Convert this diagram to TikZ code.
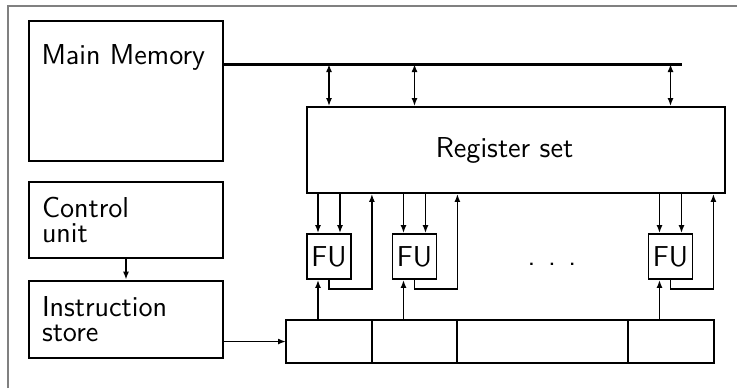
\documentclass[tikz,border=0pt]{standalone}
\usepackage{tikz}
\usetikzlibrary{arrows.meta, positioning}
\definecolor{framegray}{RGB}{128,128,128}

\begin{document}
\begin{tikzpicture}[
  x=0.5pt, y=-0.5pt,
  font=\fontsize{14.4pt}{12.5pt}\selectfont\sffamily,
  box/.style = {
    rectangle, draw=black, line width=0.9pt, inner sep=0pt
  },
  unit/.style = {
    box, minimum width=97pt, minimum height=38pt,
    text width=84pt, inner xsep=6.5pt, align=left
  },
  fu/.style = {box, minimum width=22pt, minimum height=22.5pt},
  cell/.style = {
    rectangle, draw=black, line width=0.8pt, outer sep=0pt,
    minimum height=21.5pt, inner sep=0pt
  },
  arr/.style = {-{Latex[length=4pt,width=3pt]}, line width=0.8pt},
  dbl/.style = {{Latex[length=4pt,width=3pt]}-{Latex[length=4pt,width=3pt]}, line width=0.8pt},
  bus/.style = {line width=1.5pt}
]
\useasboundingbox (0,0) rectangle (737,388);
\draw[framegray, line width=1pt] (8,388) -- (8,6) -- (737,6);

\node[box, minimum width=97pt, minimum height=70pt,
  label={[anchor=north west, inner sep=0pt, xshift=6.5pt, yshift=-12pt]north west:Main Memory}] (mem) at (126,91) {};
\node[unit, below=9.5pt of mem] (ctrl) {Control\\unit};
\node[unit, below=10.5pt of ctrl, minimum height=38.5pt] (instr) {Instruction\\store};
\node[box, minimum width=209pt, minimum height=43pt,
  label={[xshift=-5.75pt]center:Register set}] (reg) at (516,150) {};

\node[fu] (fu1) at (329,256.5) {FU};
\node[fu] (fu2) at (414.5,256.5) {FU};
\node[fu] (fu3) at (670.5,256.5) {FU};
\node[anchor=base] (dots) at (552,265) {. . .};

% instruction word
\node[cell, minimum width=43pt] (cell1) at (329,341.5) {};
\node[cell, minimum width=42.5pt, right=0pt of cell1] (cell2) {};
\node[cell, minimum width=85.5pt, right=0pt of cell2] (cell3) {};
\node[cell, minimum width=43pt, right=0pt of cell3] (cell4) {};

% bus to memory
\coordinate (busend) at (682,64);
\draw[bus] (mem.east |- busend) -- (busend);
\draw[dbl] (fu1 |- busend) -- (fu1 |- reg.north);
\draw[dbl] (fu2 |- busend) -- (fu2 |- reg.north);
\draw[dbl] (fu3 |- busend) -- (fu3 |- reg.north);

% registers to FUs and back
\draw[arr] ([xshift=-5.5pt]fu1.north |- reg.south) -- ([xshift=-5.5pt]fu1.north);
\draw[arr] ([xshift=5.5pt]fu1.north |- reg.south) -- ([xshift=5.5pt]fu1.north);
\draw[arr] ([xshift=-5.5pt]fu2.north |- reg.south) -- ([xshift=-5.5pt]fu2.north);
\draw[arr] ([xshift=5.5pt]fu2.north |- reg.south) -- ([xshift=5.5pt]fu2.north);
\draw[arr] ([xshift=-5.5pt]fu3.north |- reg.south) -- ([xshift=-5.5pt]fu3.north);
\draw[arr] ([xshift=5.5pt]fu3.north |- reg.south) -- ([xshift=5.5pt]fu3.north);
\draw[arr] (fu1.south) -- ++(0pt,-4.5pt) -| ([xshift=10pt]fu1.east |- reg.south);
\draw[arr] (fu2.south) -- ++(0pt,-4.5pt) -| ([xshift=10pt]fu2.east |- reg.south);
\draw[arr] (fu3.south) -- ++(0pt,-4.5pt) -| ([xshift=10pt]fu3.east |- reg.south);

% instruction fields to FUs
\draw[arr] ([xshift=-5.5pt]fu1.south |- cell1.north) -- ([xshift=-5.5pt]fu1.south);
\draw[arr] ([xshift=-5.5pt]fu2.south |- cell2.north) -- ([xshift=-5.5pt]fu2.south);
\draw[arr] ([xshift=-5.5pt]fu3.south |- cell4.north) -- ([xshift=-5.5pt]fu3.south);

\draw[arr] (ctrl) -- (instr);
\draw[arr] (instr.east |- cell1.west) -- (cell1.west);
\end{tikzpicture}
\end{document}
